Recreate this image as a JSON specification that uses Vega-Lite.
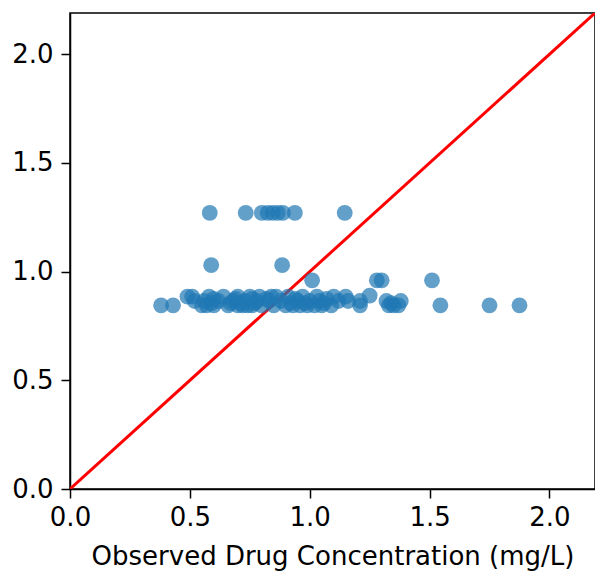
{
  "$schema": "https://vega.github.io/schema/vega-lite/v6.json",
  "width": 525,
  "height": 476,
  "autosize": {"type": "none"},
  "padding": {"left": 70, "top": 13, "right": 0, "bottom": 83},
  "background": "white",
  "config": {
    "view": {"stroke": "black", "strokeWidth": 1.5},
    "axis": {
      "labelFont": "DejaVu Sans",
      "titleFont": "DejaVu Sans",
      "labelFontSize": 26,
      "titleFontSize": 26,
      "titleFontWeight": "normal",
      "labelColor": "black",
      "titleColor": "black",
      "domainColor": "black",
      "domainWidth": 1.5,
      "tickColor": "black",
      "tickWidth": 1.5,
      "tickSize": 9,
      "labelFlush": false,
      "labelOverlap": false,
      "grid": false
    }
  },
  "datasets": {
    "pts": [
      {"obs": 0.38, "pred": 0.845}, {"obs": 0.43, "pred": 0.845}, {"obs": 0.55, "pred": 0.845}, {"obs": 0.57, "pred": 0.845},
      {"obs": 0.6, "pred": 0.845}, {"obs": 0.66, "pred": 0.845}, {"obs": 0.7, "pred": 0.845}, {"obs": 0.72, "pred": 0.845},
      {"obs": 0.74, "pred": 0.845}, {"obs": 0.76, "pred": 0.845}, {"obs": 0.8, "pred": 0.845}, {"obs": 0.85, "pred": 0.845},
      {"obs": 0.9, "pred": 0.845}, {"obs": 0.93, "pred": 0.845}, {"obs": 0.96, "pred": 0.845}, {"obs": 0.99, "pred": 0.845},
      {"obs": 1.02, "pred": 0.845}, {"obs": 1.05, "pred": 0.845}, {"obs": 1.09, "pred": 0.845}, {"obs": 1.21, "pred": 0.845},
      {"obs": 1.33, "pred": 0.845}, {"obs": 1.35, "pred": 0.845}, {"obs": 1.37, "pred": 0.845}, {"obs": 1.545, "pred": 0.845},
      {"obs": 1.75, "pred": 0.845}, {"obs": 1.875, "pred": 0.845},
      {"obs": 0.59, "pred": 0.855}, {"obs": 0.67, "pred": 0.855}, {"obs": 0.71, "pred": 0.855}, {"obs": 0.77, "pred": 0.855},
      {"obs": 0.92, "pred": 0.855}, {"obs": 0.98, "pred": 0.855}, {"obs": 1.06, "pred": 0.855}, {"obs": 1.34, "pred": 0.855},
      {"obs": 0.52, "pred": 0.865}, {"obs": 0.56, "pred": 0.865}, {"obs": 0.62, "pred": 0.865}, {"obs": 0.68, "pred": 0.865},
      {"obs": 0.73, "pred": 0.865}, {"obs": 0.78, "pred": 0.865}, {"obs": 0.83, "pred": 0.865}, {"obs": 0.88, "pred": 0.865},
      {"obs": 0.95, "pred": 0.865}, {"obs": 1.0, "pred": 0.865}, {"obs": 1.04, "pred": 0.865}, {"obs": 1.12, "pred": 0.865},
      {"obs": 1.16, "pred": 0.865}, {"obs": 1.21, "pred": 0.865}, {"obs": 1.32, "pred": 0.865}, {"obs": 1.38, "pred": 0.865},
      {"obs": 0.6, "pred": 0.875}, {"obs": 0.69, "pred": 0.875}, {"obs": 0.76, "pred": 0.875}, {"obs": 0.82, "pred": 0.875},
      {"obs": 0.94, "pred": 0.875}, {"obs": 1.07, "pred": 0.875},
      {"obs": 0.49, "pred": 0.885}, {"obs": 0.51, "pred": 0.885}, {"obs": 0.58, "pred": 0.885}, {"obs": 0.64, "pred": 0.885},
      {"obs": 0.7, "pred": 0.885}, {"obs": 0.75, "pred": 0.885}, {"obs": 0.79, "pred": 0.885}, {"obs": 0.84, "pred": 0.885},
      {"obs": 0.86, "pred": 0.885}, {"obs": 0.91, "pred": 0.885}, {"obs": 0.97, "pred": 0.885}, {"obs": 1.03, "pred": 0.885},
      {"obs": 1.1, "pred": 0.885}, {"obs": 1.15, "pred": 0.885}, {"obs": 1.25, "pred": 0.89},
      {"obs": 1.01, "pred": 0.96}, {"obs": 1.28, "pred": 0.96}, {"obs": 1.3, "pred": 0.96}, {"obs": 1.51, "pred": 0.96},
      {"obs": 0.589, "pred": 1.03}, {"obs": 0.885, "pred": 1.03},
      {"obs": 0.583, "pred": 1.27}, {"obs": 0.733, "pred": 1.27}, {"obs": 0.8, "pred": 1.27}, {"obs": 0.825, "pred": 1.27},
      {"obs": 0.846, "pred": 1.27}, {"obs": 0.867, "pred": 1.27}, {"obs": 0.888, "pred": 1.27}, {"obs": 0.938, "pred": 1.27},
      {"obs": 1.146, "pred": 1.27}
    ],
    "line": [{"obs": 0, "pred": 0}, {"obs": 2.19, "pred": 2.19}]
  },
  "layer": [
    {
      "data": {"name": "line"},
      "mark": {"type": "line", "color": "red", "strokeWidth": 3, "clip": true},
      "encoding": {
        "x": {"field": "obs", "type": "quantitative"},
        "y": {"field": "pred", "type": "quantitative"}
      }
    },
    {
      "data": {"name": "pts"},
      "mark": {"type": "point", "filled": true, "color": "#1f77b4", "opacity": 0.7, "size": 250, "shape": "circle"},
      "encoding": {
        "x": {
          "field": "obs", "type": "quantitative",
          "scale": {"domain": [0, 2.19], "nice": false, "zero": true},
          "axis": {"values": [0, 0.5, 1, 1.5, 2], "format": ".1f", "title": "Observed Drug Concentration (mg/L)", "labelPadding": 6, "titlePadding": 13}
        },
        "y": {
          "field": "pred", "type": "quantitative",
          "scale": {"domain": [0, 2.19], "nice": false, "zero": true},
          "axis": {"values": [0, 0.5, 1, 1.5, 2], "format": ".1f", "title": null, "labelPadding": 8}
        }
      }
    }
  ]
}
